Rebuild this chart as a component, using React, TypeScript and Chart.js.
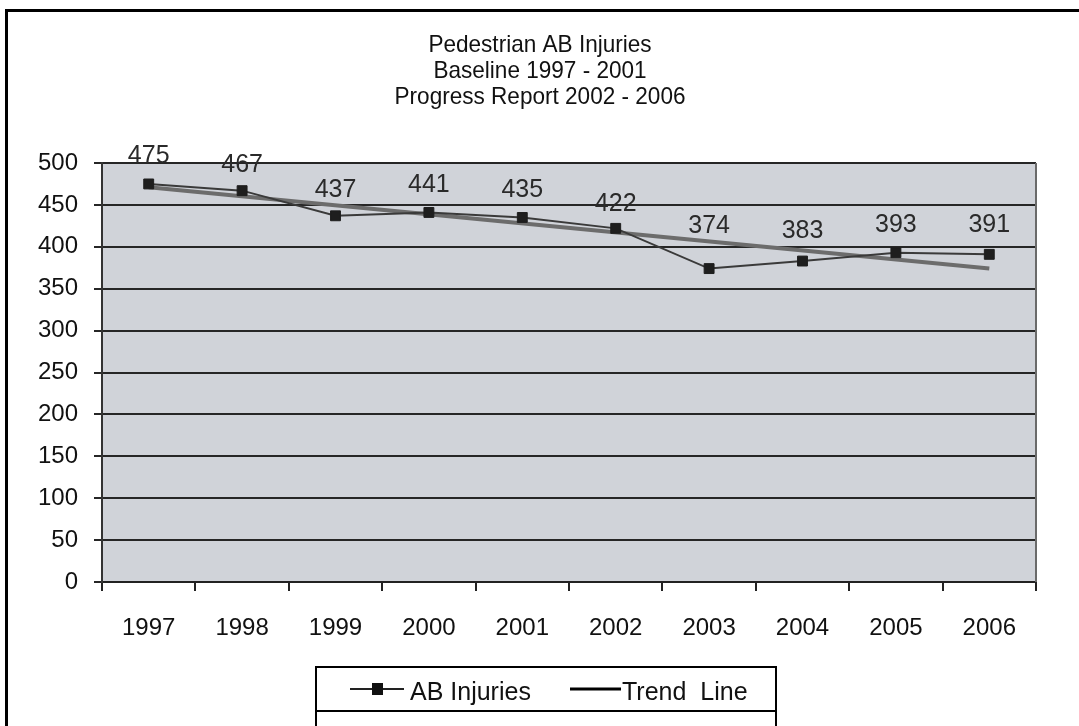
import React, { useEffect, useRef } from 'react';
import { Chart, registerables } from 'chart.js';

Chart.register(...registerables);

const years = ['1997', '1998', '1999', '2000', '2001', '2002', '2003', '2004', '2005', '2006'];
const abInjuries = [475, 467, 437, 441, 435, 422, 374, 383, 393, 391];
// trend line: straight line from 1997 to 2006
const trendLine = [471, null, null, null, null, null, null, null, null, 374];
const titleLines = ['Pedestrian AB Injuries', 'Baseline 1997 - 2001', 'Progress Report 2002 - 2006'];
const legendLabels = ['AB Injuries', 'Trend  Line'];
const yMin = 0;
const yMax = 500;
const yStep = 50;

// layout only: pixel lift of each value label above its point
const labelLift = [28, 26, 26, 27, 27, 24, 42, 30, 28, 29];

const FONT = '"Liberation Sans", Arial, Helvetica, sans-serif';

const framePlugin = {
  id: 'frame',
  beforeDraw(chart: any) {
    const { ctx, chartArea: a } = chart;
    ctx.save();
    ctx.fillStyle = '#ffffff';
    ctx.fillRect(0, 0, chart.width, chart.height);
    ctx.fillStyle = '#d0d3d9';
    ctx.fillRect(a.left, a.top, a.right - a.left, a.bottom - a.top);
    ctx.restore();
  },
  afterDatasetsDraw(chart: any) {
    const { ctx } = chart;
    const meta = chart.getDatasetMeta(0);
    ctx.save();
    ctx.fillStyle = '#2a2a2a';
    ctx.font = `25px ${FONT}`;
    ctx.textAlign = 'center';
    ctx.textBaseline = 'middle';
    meta.data.forEach((pt: any, i: number) => {
      ctx.fillText(String(abInjuries[i]), pt.x, pt.y - labelLift[i]);
    });
    ctx.restore();
  },
  afterDraw(chart: any) {
    const { ctx, chartArea: a } = chart;
    ctx.save();
    // plot right edge
    ctx.strokeStyle = '#6a6a6a';
    ctx.lineWidth = 2;
    ctx.beginPath();
    ctx.moveTo(a.right, a.top);
    ctx.lineTo(a.right, a.bottom);
    ctx.stroke();

    // outer frame
    ctx.strokeStyle = '#000';
    ctx.lineWidth = 3;
    ctx.strokeRect(6.5, 10.5, 1200, 1000);

    // title
    ctx.fillStyle = '#111';
    ctx.font = `24px ${FONT}`;
    ctx.textAlign = 'center';
    ctx.textBaseline = 'middle';
    titleLines.forEach((line, i) => {
      ctx.save();
      ctx.translate(540, 45 + i * 26);
      ctx.scale(0.94, 1);
      ctx.fillText(line, 0, 0);
      ctx.restore();
    });

    // legend box
    ctx.strokeStyle = '#000';
    ctx.lineWidth = 2;
    ctx.beginPath();
    ctx.moveTo(316, 760);
    ctx.lineTo(316, 667);
    ctx.lineTo(776, 667);
    ctx.lineTo(776, 760);
    ctx.moveTo(316, 711);
    ctx.lineTo(776, 711);
    ctx.stroke();

    // legend entry 1
    ctx.strokeStyle = '#222';
    ctx.lineWidth = 2;
    ctx.beginPath();
    ctx.moveTo(350, 689);
    ctx.lineTo(404, 689);
    ctx.stroke();
    ctx.fillStyle = '#111';
    ctx.fillRect(372, 683, 11, 12);
    ctx.font = `25px ${FONT}`;
    ctx.textAlign = 'left';
    ctx.textBaseline = 'middle';
    ctx.fillText(legendLabels[0], 410, 693);

    // legend entry 2
    ctx.strokeStyle = '#000';
    ctx.lineWidth = 3;
    ctx.beginPath();
    ctx.moveTo(570, 689);
    ctx.lineTo(621, 689);
    ctx.stroke();
    ctx.fillText(legendLabels[1], 622, 693);
    ctx.restore();
  },
};

export default function App() {
  const ref = useRef<HTMLCanvasElement | null>(null);

  useEffect(() => {
    if (!ref.current) return;
    const chart = new Chart(ref.current, {
      type: 'line',
      data: {
        labels: years,
        datasets: [
          {
            label: legendLabels[0],
            data: abInjuries,
            borderColor: '#3a3a3a',
            backgroundColor: '#1e1e1e',
            borderWidth: 2,
            pointStyle: 'rect',
            pointRadius: 7,
            pointBorderWidth: 1,
            pointBorderColor: '#1e1e1e',
            pointBackgroundColor: '#1e1e1e',
            tension: 0,
          },
          {
            label: legendLabels[1],
            data: trendLine,
            borderColor: '#6c6c6c',
            borderWidth: 4,
            pointRadius: 0,
            spanGaps: true,
            tension: 0,
          },
        ],
      },
      options: {
        responsive: false,
        animation: false,
        layout: { padding: { left: 0, right: 43, top: 163, bottom: 84 } },
        plugins: {
          legend: { display: false },
          title: { display: false },
          tooltip: { enabled: false },
        },
        scales: {
          x: {
            offset: true,
            grid: {
              offset: true,
              drawOnChartArea: false,
              drawTicks: true,
              tickLength: 9,
              color: '#222',
              lineWidth: 2,
            },
            border: { display: true, color: '#222', width: 2 },
            ticks: {
              color: '#111',
              font: { family: FONT, size: 24 },
              padding: 23,
              maxRotation: 0,
            },
            afterFit: (scale: any) => {
              scale.height = 60;
            },
          },
          y: {
            min: yMin,
            max: yMax,
            grid: {
              color: '#262626',
              lineWidth: 2,
              drawTicks: true,
              tickLength: 8,
            },
            border: { display: true, color: '#333', width: 2 },
            ticks: {
              stepSize: yStep,
              color: '#111',
              font: { family: FONT, size: 24 },
              padding: 16,
            },
            afterFit: (scale: any) => {
              scale.width = 102;
            },
          },
        },
      },
      plugins: [framePlugin],
    });
    return () => chart.destroy();
  }, []);

  return (
    <div style={{ position: 'fixed', left: 0, top: 0, width: 1079, height: 726, background: '#fff' }}>
      <canvas ref={ref} width={1079} height={726} style={{ display: 'block' }} />
    </div>
  );
}
